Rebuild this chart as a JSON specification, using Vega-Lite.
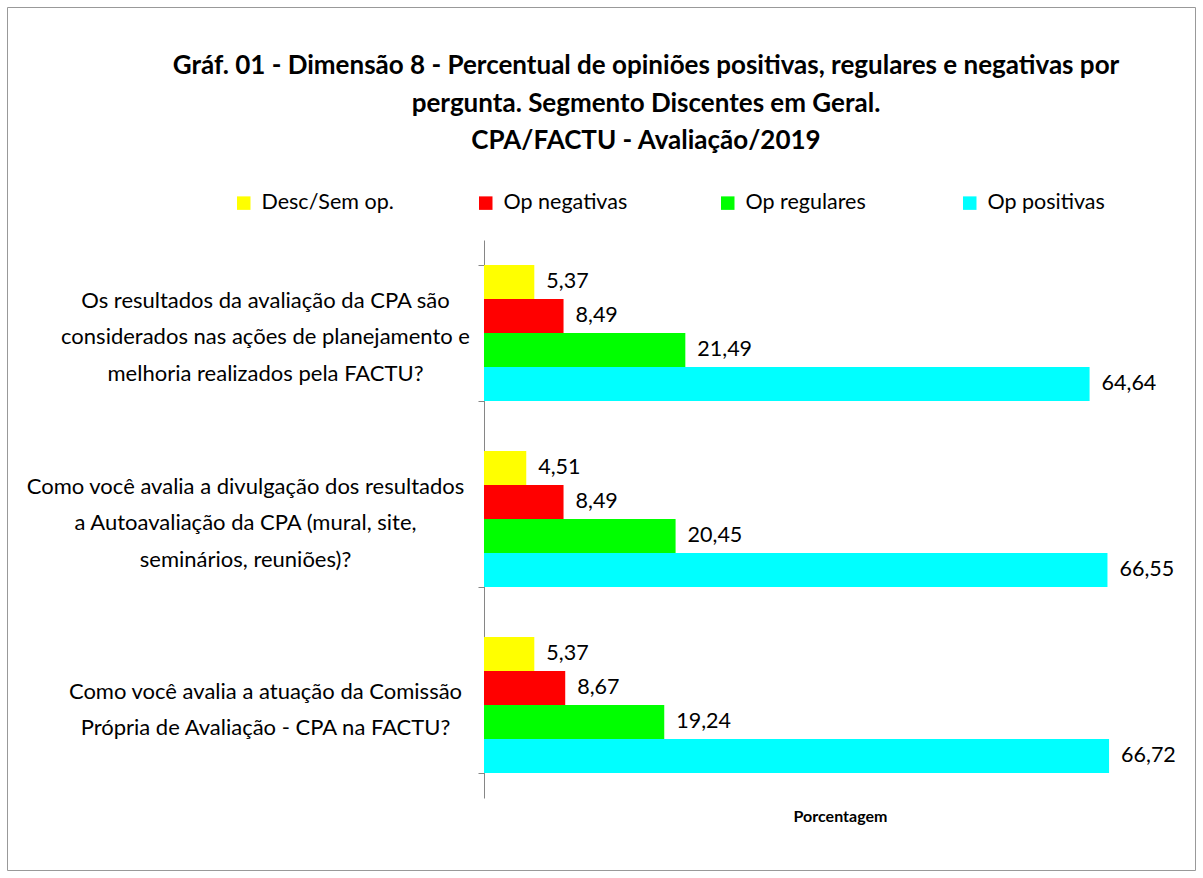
{
  "$schema": "https://vega.github.io/schema/vega-lite/v6.json",
  "width": 1188,
  "height": 863,
  "autosize": {"type": "none"},
  "padding": {"left": 7, "top": 7, "right": 8, "bottom": 8},
  "background": "white",
  "config": {
    "view": {"stroke": "#999999", "strokeWidth": 1},
    "locale": {"number": {"decimal": ",", "thousands": ".", "grouping": [3], "currency": ["R$", ""]}},
    "font": "Lato"
  },
  "title": {
    "text": ["Gráf. 01 - Dimensão 8 - Percentual de opiniões positivas, regulares e negativas por", "pergunta. Segmento Discentes em Geral.", "CPA/FACTU - Avaliação/2019"],
    "font": "Lato",
    "fontSize": 26,
    "fontWeight": "bold",
    "color": "black",
    "lineHeight": 37.5,
    "anchor": "middle",
    "frame": "group",
    "baseline": "bottom",
    "offset": -184,
    "dx": 45
  },
  "data": {
    "values": [
      {"pergunta": "Os resultados da avaliação da CPA são|considerados nas ações de planejamento e|melhoria realizados pela FACTU?", "opiniao": "Desc/Sem op.", "valor": 5.37},
      {"pergunta": "Os resultados da avaliação da CPA são|considerados nas ações de planejamento e|melhoria realizados pela FACTU?", "opiniao": "Op negativas", "valor": 8.49},
      {"pergunta": "Os resultados da avaliação da CPA são|considerados nas ações de planejamento e|melhoria realizados pela FACTU?", "opiniao": "Op regulares", "valor": 21.49},
      {"pergunta": "Os resultados da avaliação da CPA são|considerados nas ações de planejamento e|melhoria realizados pela FACTU?", "opiniao": "Op positivas", "valor": 64.64},
      {"pergunta": "Como você avalia a divulgação dos resultados|a Autoavaliação da CPA (mural, site,|seminários, reuniões)?", "opiniao": "Desc/Sem op.", "valor": 4.51},
      {"pergunta": "Como você avalia a divulgação dos resultados|a Autoavaliação da CPA (mural, site,|seminários, reuniões)?", "opiniao": "Op negativas", "valor": 8.49},
      {"pergunta": "Como você avalia a divulgação dos resultados|a Autoavaliação da CPA (mural, site,|seminários, reuniões)?", "opiniao": "Op regulares", "valor": 20.45},
      {"pergunta": "Como você avalia a divulgação dos resultados|a Autoavaliação da CPA (mural, site,|seminários, reuniões)?", "opiniao": "Op positivas", "valor": 66.55},
      {"pergunta": "Como você avalia a atuação da Comissão|Própria de Avaliação - CPA na FACTU?", "opiniao": "Desc/Sem op.", "valor": 5.37},
      {"pergunta": "Como você avalia a atuação da Comissão|Própria de Avaliação - CPA na FACTU?", "opiniao": "Op negativas", "valor": 8.67},
      {"pergunta": "Como você avalia a atuação da Comissão|Própria de Avaliação - CPA na FACTU?", "opiniao": "Op regulares", "valor": 19.24},
      {"pergunta": "Como você avalia a atuação da Comissão|Própria de Avaliação - CPA na FACTU?", "opiniao": "Op positivas", "valor": 66.72}
    ]
  },
  "encoding": {
    "y": {
      "field": "pergunta",
      "type": "nominal",
      "sort": null,
      "scale": {"range": [233, 791], "paddingInner": 0.27, "paddingOuter": 0.135},
      "axis": {
        "title": null,
        "offset": -477,
        "domainColor": "#868686",
        "tickColor": "#868686",
        "tickBand": "extent",
        "tickSize": 6,
        "grid": false,
        "labelExpr": "split(datum.label, '|')",
        "labelAlign": "center",
        "labelBaseline": "middle",
        "labelOffset": {"condition": {"test": "datum.value == 'Como você avalia a atuação da Comissão|Própria de Avaliação - CPA na FACTU?'", "value": -14}, "value": -33},
        "labelPadding": {"condition": {"test": "datum.value == 'Como você avalia a divulgação dos resultados|a Autoavaliação da CPA (mural, site,|seminários, reuniões)?'", "value": 233}, "value": 213},
        "labelLimit": 600,
        "labelFont": "Lato",
        "labelFontSize": 22,
        "labelColor": "black",
        "labelLineHeight": 36.5
      }
    },
    "yOffset": {
      "field": "opiniao",
      "type": "nominal",
      "sort": ["Desc/Sem op.", "Op negativas", "Op regulares", "Op positivas"],
      "scale": {"paddingInner": 0, "paddingOuter": 0}
    },
    "x": {
      "field": "valor",
      "type": "quantitative",
      "scale": {"domain": [0, 76], "range": [477, 1189], "nice": false, "zero": true},
      "axis": {
        "title": "Porcentagem",
        "offset": -71,
        "domain": false,
        "ticks": false,
        "labels": false,
        "grid": false,
        "titleFont": "Lato",
        "titleFontSize": 16,
        "titleFontWeight": "bold",
        "titleColor": "black",
        "titlePadding": 9
      }
    }
  },
  "layer": [
    {
      "mark": {"type": "bar"},
      "encoding": {
        "color": {
          "field": "opiniao",
          "type": "nominal",
          "scale": {
            "domain": ["Desc/Sem op.", "Op negativas", "Op regulares", "Op positivas"],
            "range": ["#FFFF00", "#FF0000", "#00FF00", "#00FFFF"]
          },
          "legend": {
            "title": null,
            "orient": "none",
            "legendX": 226,
            "legendY": 185,
            "direction": "horizontal",
            "columns": 4,
            "gridAlign": "all",
            "columnPadding": 81,
            "symbolType": "square",
            "symbolSize": 182,
            "symbolStrokeWidth": 0,
            "labelFont": "Lato",
            "labelFontSize": 21.5,
            "labelColor": "black",
            "labelOffset": 7,
            "labelLimit": 300
          }
        }
      }
    },
    {
      "mark": {"type": "text", "align": "left", "baseline": "middle", "dx": 12, "fontSize": 21.5, "font": "Lato", "color": "black"},
      "encoding": {
        "text": {"field": "valor", "type": "quantitative", "format": ".2f"}
      }
    }
  ]
}
